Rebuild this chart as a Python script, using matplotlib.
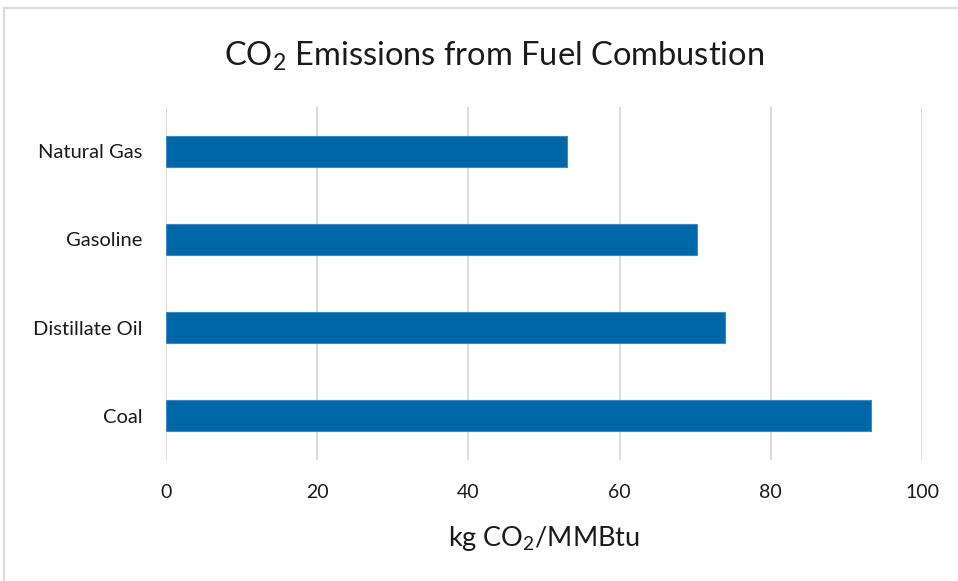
import matplotlib
matplotlib.use("Agg")
import matplotlib.pyplot as plt
from matplotlib.patches import Rectangle

# Values (kg CO2 per MMBtu)
fuels = ["Natural Gas", "Gasoline", "Distillate Oil", "Coal"]
emissions = [53.1, 70.2, 74.0, 93.3]
x_ticks = [0, 20, 40, 60, 80, 100]

BAR = "#0067A9"
EDGE = "#3A8CC6"
GRID = "#D9D9D9"
TEXT = "#1A1A1A"

plt.rcParams["font.family"] = ["Lato", "DejaVu Sans"]
plt.rcParams["mathtext.default"] = "regular"

W, H = 958, 581
fig = plt.figure(figsize=(W / 100, H / 100), dpi=100)
ax = fig.add_axes([166 / W, (H - 460) / H, (922 - 166) / W, (460 - 107) / H])

y_pos = list(range(len(fuels)))
ax.barh(y_pos, emissions, height=0.35, color=BAR, edgecolor=EDGE, linewidth=0.8, zorder=3)
ax.set_ylim(len(fuels) - 0.5, -0.5)
ax.set_xlim(0, 100)
ax.set_yticks(y_pos)
ax.set_yticklabels(fuels, fontsize=14.5, color=TEXT)
ax.set_xticks(x_ticks)
ax.set_xticklabels([str(t) for t in x_ticks], fontsize=14, color=TEXT)
ax.tick_params(axis="both", length=0)
ax.tick_params(axis="x", pad=17)
ax.tick_params(axis="y", pad=17)
ax.grid(axis="x", color=GRID, linewidth=1.3, zorder=0)
for s in ax.spines.values():
    s.set_visible(False)

ax.set_xlabel("kg CO$_2$/MMBtu", fontsize=19.5, color=TEXT, labelpad=17)
fig.text(494 / W, 1 - 56 / H, "CO$_2$ Emissions from Fuel Combustion",
         fontsize=23.5, color=TEXT, ha="center", va="center")

# light outer frame (only top and left edges visible in the reference)
fig.patches.append(Rectangle((4 / W, -0.05), 1.1, 1.05 - 8 / H, transform=fig.transFigure,
                             fill=False, edgecolor="#D9D9D9", linewidth=1.5))

fig.savefig("out.png", dpi=100)
